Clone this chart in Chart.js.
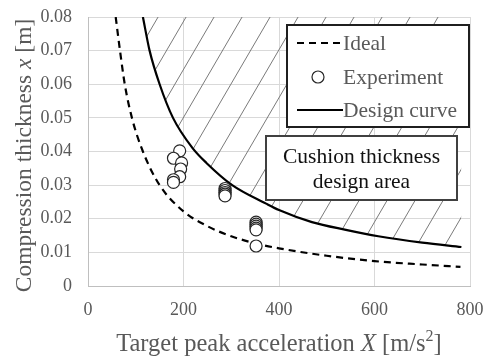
<!DOCTYPE html>
<html>
<head>
<meta charset="utf-8">
<script src="https://cdn.jsdelivr.net/npm/chart.js@4/dist/chart.umd.min.js"></script>
<style>
  html, body { margin: 0; padding: 0; background: #ffffff; }
  #wrap { width: 485px; height: 356px; }
</style>
</head>
<body>
<div id="wrap"><canvas id="c" width="485" height="356"></canvas></div>
<script>
// Ideal cushion thickness curve (acceleration in m/s^2, thickness in m)
const idealX = [58, 67, 77, 92, 115, 150, 200, 250, 300, 350, 400, 500, 600, 700, 780];
const idealY = [0.080, 0.070, 0.060, 0.050, 0.040, 0.030, 0.0222, 0.0178, 0.0148, 0.0127, 0.0112, 0.0090, 0.0074, 0.0064, 0.0057];

// Design curve; everything above it is the design area
const designX = [115, 129, 150, 178, 219, 248, 302, 373, 400, 469, 540, 608, 700, 782];
const designY = [0.080, 0.070, 0.060, 0.050, 0.041, 0.0366, 0.030, 0.0245, 0.0226, 0.0190, 0.0167, 0.0148, 0.0129, 0.0116];

// Measured compression thickness
const expX = [192, 179, 196, 194, 192, 179, 179, 287, 287, 287, 287, 287, 352, 352, 352, 352, 352, 352];
const expY = [0.0402, 0.0380, 0.0366, 0.0348, 0.0325, 0.0316, 0.0308, 0.0290, 0.0284, 0.0278, 0.0273, 0.0268, 0.0190, 0.0184, 0.0178, 0.0172, 0.0167, 0.0119];

// Axis tick labels
const xTickLabels = ['0', '200', '400', '600', '800'];
const yTickLabels = ['0', '0.01', '0.02', '0.03', '0.04', '0.05', '0.06', '0.07', '0.08'];

// Series names
const seriesNames = ['Ideal', 'Experiment', 'Design curve'];
const areaLabel = ['Cushion thickness', 'design area'];

const SERIF = '"Liberation Serif", "Times New Roman", serif';
const GREY = '#595959';

const toPoints = (xs, ys) => xs.map((x, i) => ({ x: x, y: ys[i] }));

// Diagonal hatch tile for the design area
function makeHatch() {
  const w = 28, h = 48;
  const tile = document.createElement('canvas');
  tile.width = w; tile.height = h;
  const t = tile.getContext('2d');
  t.strokeStyle = '#7a7a7a';
  t.lineWidth = 1;
  for (const off of [-w, 0, w]) {
    t.beginPath();
    t.moveTo(off - w, 2 * h);
    t.lineTo(off + 2 * w, -h);
    t.stroke();
  }
  return t.createPattern(tile, 'repeat');
}

// Draws a run of text pieces (plain / italic / superscript) centred on x
function drawRuns(ctx, runs, cx, baseline, size) {
  const fontFor = r => (r.italic ? 'italic ' : '') + (r.sup ? Math.round(size * 0.65) : size) + 'px ' + SERIF;
  let total = 0;
  for (const r of runs) { ctx.font = fontFor(r); total += ctx.measureText(r.text).width; }
  let x = cx - total / 2;
  ctx.textAlign = 'left';
  ctx.textBaseline = 'alphabetic';
  for (const r of runs) {
    ctx.font = fontFor(r);
    ctx.fillText(r.text, x, r.sup ? baseline - size * 0.4 : baseline);
    x += ctx.measureText(r.text).width;
  }
}

const overlay = {
  id: 'overlay',
  afterDatasetsDraw(chart) {
    const ctx = chart.ctx;
    const ds = chart.data.datasets;
    ctx.save();

    // Legend box
    const lx = 287, ly = 25, lw = 182, lh = 102;
    ctx.fillStyle = '#ffffff';
    ctx.fillRect(lx, ly, lw, lh);
    ctx.strokeStyle = '#1f1f1f';
    ctx.lineWidth = 2;
    ctx.strokeRect(lx, ly, lw, lh);

    const rows = [ly + 18, ly + 52, ly + 85];
    const symL = lx + 10, symR = lx + 56;
    ctx.font = '21.5px ' + SERIF;
    ctx.textAlign = 'left';
    ctx.textBaseline = 'middle';
    ds.forEach((d, row) => {
      const y = rows[row];
      if (d.showLine === false) {
        ctx.beginPath();
        ctx.arc((symL + symR) / 2 - 2, y, d.pointRadius, 0, Math.PI * 2);
        ctx.fillStyle = d.pointBackgroundColor;
        ctx.fill();
        ctx.lineWidth = d.pointBorderWidth;
        ctx.strokeStyle = d.pointBorderColor;
        ctx.stroke();
      } else {
        ctx.beginPath();
        ctx.setLineDash(d.borderDash || []);
        ctx.lineWidth = d.borderWidth;
        ctx.strokeStyle = d.borderColor;
        ctx.moveTo(symL, y);
        ctx.lineTo(symR, y);
        ctx.stroke();
        ctx.setLineDash([]);
      }
      ctx.fillStyle = GREY;
      ctx.fillText(d.label, symR, y + 1);
    });

    // Design area caption box
    const bx = 266, by = 136, bw = 191, bh = 64;
    ctx.fillStyle = '#ffffff';
    ctx.fillRect(bx, by, bw, bh);
    ctx.strokeStyle = '#404040';
    ctx.lineWidth = 2;
    ctx.strokeRect(bx, by, bw, bh);
    ctx.fillStyle = '#111111';
    ctx.font = '21.5px ' + SERIF;
    ctx.textAlign = 'center';
    ctx.textBaseline = 'alphabetic';
    ctx.fillText(areaLabel[0], bx + bw / 2, by + 27);
    ctx.fillText(areaLabel[1], bx + bw / 2, by + 52);

    ctx.restore();
  },
  afterDraw(chart) {
    const ctx = chart.ctx;
    const area = chart.chartArea;
    ctx.save();
    ctx.fillStyle = GREY;
    // x axis title
    drawRuns(ctx, [
      { text: 'Target peak acceleration ' },
      { text: 'X', italic: true },
      { text: ' [m/s' },
      { text: '2', sup: true },
      { text: ']' }
    ], (area.left + area.right) / 2, 351, 24.5);
    // y axis title
    ctx.translate(31, (area.top + area.bottom) / 2 + 4);
    ctx.rotate(-Math.PI / 2);
    drawRuns(ctx, [
      { text: 'Compression thickness ' },
      { text: 'x', italic: true },
      { text: ' [m]' }
    ], 0, 0, 23.5);
    ctx.restore();
  }
};

const hatch = makeHatch();

new Chart(document.getElementById('c'), {
  type: 'scatter',
  data: {
    datasets: [
      {
        label: seriesNames[0],
        data: toPoints(idealX, idealY),
        showLine: true,
        borderColor: '#000000',
        borderWidth: 2.2,
        borderDash: [7, 5],
        pointRadius: 0,
        cubicInterpolationMode: 'monotone',
        fill: false,
        order: 2
      },
      {
        label: seriesNames[1],
        data: toPoints(expX, expY),
        showLine: false,
        pointRadius: 6,
        pointBackgroundColor: '#ffffff',
        pointBorderColor: '#262626',
        pointBorderWidth: 1.2,
        order: 1
      },
      {
        label: seriesNames[2],
        data: toPoints(designX, designY),
        showLine: true,
        borderColor: '#000000',
        borderWidth: 2.2,
        pointRadius: 0,
        cubicInterpolationMode: 'monotone',
        fill: 'end',
        backgroundColor: hatch,
        order: 3
      }
    ]
  },
  options: {
    responsive: false,
    animation: false,
    events: [],
    layout: { padding: { top: 17, right: 15, left: 0, bottom: 0 } },
    plugins: {
      legend: { display: false },
      tooltip: { enabled: false },
      title: { display: false }
    },
    scales: {
      x: {
        type: 'linear',
        min: 0, max: 800,
        afterFit: s => { s.height = 70; s.paddingLeft = 0; s.paddingRight = 0; },
        ticks: {
          stepSize: 200,
          padding: 13,
          color: GREY,
          font: { family: SERIF, size: 18 },
          callback: (v, i) => xTickLabels[i]
        },
        grid: { color: '#d9d9d9', lineWidth: 1, drawTicks: false },
        border: { color: '#bfbfbf', width: 1 }
      },
      y: {
        type: 'linear',
        min: 0, max: 0.08,
        afterFit: s => { s.width = 88; s.paddingTop = 0; s.paddingBottom = 0; },
        ticks: {
          stepSize: 0.01,
          padding: 16,
          color: GREY,
          font: { family: SERIF, size: 18 },
          callback: (v, i) => yTickLabels[i]
        },
        grid: { color: '#d9d9d9', lineWidth: 1, drawTicks: false },
        border: { color: '#bfbfbf', width: 1 }
      }
    }
  },
  plugins: [overlay]
});
</script>
</body>
</html>
